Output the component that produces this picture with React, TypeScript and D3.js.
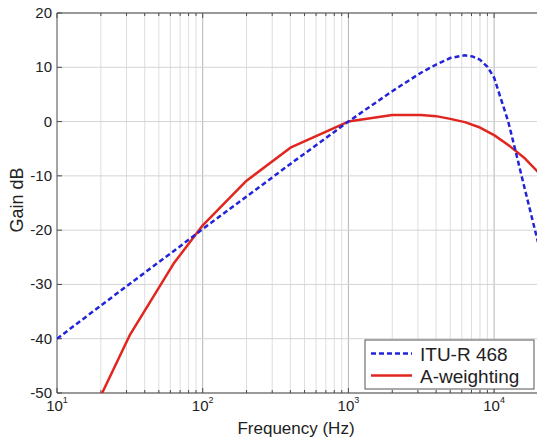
import React from "react";
import * as d3 from "d3";

const ituFreq = [10, 31.5, 63, 100, 200, 400, 800, 1000, 2000, 3150, 4000, 5000, 6300, 7100, 8000, 9000, 10000, 12500, 14000, 16000, 20000];
const ituGain = [-40, -29.9, -23.9, -19.8, -13.8, -7.8, -1.9, 0, 5.6, 9.0, 10.5, 11.7, 12.2, 12.0, 11.4, 10.1, 8.1, 0, -5.3, -11.7, -22.2];

const aFreq = [20, 31.5, 63, 100, 200, 400, 1000, 2000, 3150, 4000, 5000, 6300, 8000, 10000, 12500, 16000, 20000];
const aGain = [-50.5, -39.4, -26.2, -19.1, -10.9, -4.8, 0, 1.2, 1.2, 1.0, 0.5, -0.1, -1.1, -2.5, -4.3, -6.6, -9.3];

const yTicks = [20, 10, 0, -10, -20, -30, -40, -50];
const xMajor = [10, 100, 1000, 10000];
const xMajorExp = ["1", "2", "3", "4"];
const seriesNames = ["ITU-R 468", "A-weighting"];

const W = 537, H = 443;
const L = 57, T = 13, B = 393;
const decade = 145.7;
const R = L + decade * Math.log10(20000 / 10);
const FONT = "'Liberation Sans', Arial, Helvetica, sans-serif";

export default function App() {
  const x = d3.scaleLog().domain([10, 20000]).range([L, R]);
  const y = d3.scaleLinear().domain([-50, 20]).range([B, T]);

  const minor: number[] = [];
  for (const dec of [10, 100, 1000, 10000]) {
    for (let k = 2; k <= 9; k++) {
      const f = dec * k;
      if (f < 20000) minor.push(f);
    }
  }

  const line = d3
    .line<[number, number]>()
    .x((d) => x(d[0]))
    .y((d) => y(d[1]));
  const ituPts = ituFreq.map((f, i) => [f, ituGain[i]] as [number, number]);
  const aPts = aFreq.map((f, i) => [f, aGain[i]] as [number, number]);

  const blue = "#2323d8";
  const red = "#e0261f";
  const axisCol = "#4a4a4a";

  return (
    <div style={{ position: "absolute", left: 0, top: 0 }}>
      <svg width={W} height={H} style={{ display: "block", background: "#fff" }} fontFamily={FONT}>
        <defs>
          <clipPath id="plotclip">
            <rect x={L} y={T} width={W - L} height={B - T} />
          </clipPath>
        </defs>
        <rect x={0} y={0} width={W} height={H} fill="#fff" />
        {/* grid */}
        {minor.map((f) => (
          <line key={"mg" + f} x1={x(f)} x2={x(f)} y1={T} y2={B} stroke="#dedede" strokeWidth={1} />
        ))}
        {xMajor.slice(1).map((f) => (
          <line key={"Mg" + f} x1={x(f)} x2={x(f)} y1={T} y2={B} stroke="#b4b4b4" strokeWidth={1} />
        ))}
        {yTicks.map((v) => (
          <line key={"hg" + v} x1={L} x2={W} y1={y(v)} y2={y(v)} stroke="#d4d4d4" strokeWidth={1} />
        ))}
        {/* ticks */}
        {minor.map((f) => (
          <g key={"mt" + f}>
            <line x1={x(f)} x2={x(f)} y1={B} y2={B - 3} stroke={axisCol} />
            <line x1={x(f)} x2={x(f)} y1={T} y2={T + 3} stroke={axisCol} />
          </g>
        ))}
        {xMajor.map((f) => (
          <g key={"Mt" + f}>
            <line x1={x(f)} x2={x(f)} y1={B} y2={B - 5} stroke={axisCol} />
            <line x1={x(f)} x2={x(f)} y1={T} y2={T + 5} stroke={axisCol} />
          </g>
        ))}
        {yTicks.map((v) => (
          <line key={"yt" + v} x1={L} x2={L + 5} y1={y(v)} y2={y(v)} stroke={axisCol} />
        ))}
        {/* axes box */}
        <line x1={L} x2={W} y1={T} y2={T} stroke={axisCol} strokeWidth={1} />
        <line x1={L} x2={W} y1={B} y2={B} stroke={axisCol} strokeWidth={1} />
        <line x1={L} x2={L} y1={T} y2={B} stroke={axisCol} strokeWidth={1} />
        {/* curves */}
        <g clipPath="url(#plotclip)">
          <path d={line(aPts) || ""} fill="none" stroke={red} strokeWidth={2.5} strokeLinejoin="round" />
          <path d={line(ituPts) || ""} fill="none" stroke={blue} strokeWidth={2.5} strokeDasharray="5,3" />
        </g>
        {/* y tick labels */}
        {yTicks.map((v) => (
          <text key={"yl" + v} x={52} y={y(v) + 5} textAnchor="end" fontSize={15} fill="#222">
            {v}
          </text>
        ))}
        {/* x tick labels */}
        {xMajor.map((f, i) => (
          <text key={"xl" + f} x={x(f)} y={411} textAnchor="middle" fontSize={15} fill="#222">
            10
            <tspan fontSize={9} dy={-8}>{xMajorExp[i]}</tspan>
          </text>
        ))}
        {/* axis titles */}
        <text x={296} y={434} textAnchor="middle" fontSize={17} fill="#222">
          Frequency (Hz)
        </text>
        <text transform={`translate(23,200) rotate(-90)`} textAnchor="middle" fontSize={18} fill="#222">
          Gain dB
        </text>
        {/* legend */}
        <rect x={365} y={340} width={169} height={49} fill="#fff" stroke="#555" strokeWidth={1} />
        <line x1={371} x2={412} y1={353.5} y2={353.5} stroke={blue} strokeWidth={2.5} strokeDasharray="5,3" />
        <line x1={371} x2={412} y1={375.5} y2={375.5} stroke={red} strokeWidth={2.5} />
        <text x={420} y={360.5} fontSize={19} fill="#222">{seriesNames[0]}</text>
        <text x={420} y={382.5} fontSize={19} fill="#222">{seriesNames[1]}</text>
      </svg>
    </div>
  );
}
